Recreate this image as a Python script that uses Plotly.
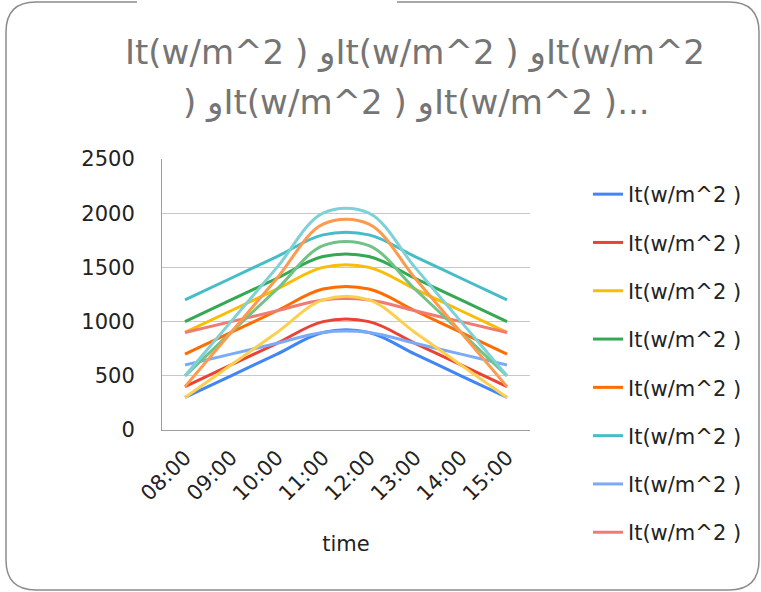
import plotly.graph_objects as go

times = ["08:00", "09:00", "10:00", "11:00", "12:00", "13:00", "14:00", "15:00"]
series_name = "It(w/m^2 )"

s1 = [300, 500, 700, 900, 900, 700, 500, 300]
s2 = [400, 600, 800, 1000, 1000, 800, 600, 400]
s3 = [900, 1100, 1300, 1500, 1500, 1300, 1100, 900]
s4 = [1000, 1200, 1400, 1600, 1600, 1400, 1200, 1000]
s5 = [700, 900, 1100, 1300, 1300, 1100, 900, 700]
s6 = [1200, 1400, 1600, 1800, 1800, 1600, 1400, 1200]
s7 = [600, 700, 800, 900, 900, 800, 700, 600]
s8 = [900, 1000, 1100, 1200, 1200, 1100, 1000, 900]
s9 = [300, 600, 900, 1200, 1200, 900, 600, 300]
s10 = [500, 900, 1300, 1700, 1700, 1300, 900, 500]
s11 = [400, 900, 1400, 1900, 1900, 1400, 900, 400]
s12 = [500, 1000, 1500, 2000, 2000, 1500, 1000, 500]

all_series = [s1, s2, s3, s4, s5, s6, s7, s8, s9, s10, s11, s12]
colors = ["#4285F4", "#EA4335", "#FBBC04", "#34A853", "#FF6D01", "#46BDC6",
          "#7BAAF7", "#F07B72", "#FCD04F", "#71C287", "#FF994D", "#7ED1D7"]
legend_count = 8

title_line1 = "It(w/m^2 ) وIt(w/m^2 ) وIt(w/m^2"
title_line2 = ") وIt(w/m^2 ) وIt(w/m^2 )..."

FONT = "DejaVu Sans"
W, H = 761, 592
L, R, T, B = 162, 530, 159, 430

fig = go.Figure()
for i, (vals, col) in enumerate(zip(all_series, colors)):
    fig.add_trace(go.Scatter(
        x=times, y=vals, mode="lines", name=series_name,
        line=dict(color=col, width=3, shape="spline", smoothing=1),
        showlegend=i < legend_count, legendgroup=f"g{i}",
    ))

def px(x):
    return (x - L) / (R - L)

def py(y):
    return (B - y) / (B - T)

# rounded border with a gap at the top
x0, y0, x1, y1, r = 6, 2, 759, 590, 30
pts = [("M", [(397, y0)]), ("L", [(x1 - r, y0)]), ("Q", [(x1, y0), (x1, y0 + r)]),
       ("L", [(x1, y1 - r)]), ("Q", [(x1, y1), (x1 - r, y1)]),
       ("L", [(x0 + r, y1)]), ("Q", [(x0, y1), (x0, y1 - r)]),
       ("L", [(x0, y0 + r)]), ("Q", [(x0, y0), (x0 + r, y0)]),
       ("L", [(137, y0)])]
path = " ".join(cmd + " " + " ".join(f"{px(a):.5f},{py(b):.5f}" for a, b in p) for cmd, p in pts)

title_font = dict(size=34, color="#757575", family=FONT)
fig.update_layout(
    width=W, height=H,
    margin=dict(l=L, r=W - R, t=T, b=H - B),
    paper_bgcolor="white", plot_bgcolor="white",
    font=dict(family=FONT, color="#222222"),
    annotations=[
        dict(text=title_line1, xref="paper", yref="paper", x=px(415), y=py(52),
             xanchor="center", yanchor="middle", showarrow=False, font=title_font),
        dict(text=title_line2, xref="paper", yref="paper", x=px(416), y=py(103),
             xanchor="center", yanchor="middle", showarrow=False, font=title_font),
    ],
    xaxis=dict(type="category", range=[-0.5, 7.5], tickangle=-45,
               showgrid=False, showline=True, linecolor="#9e9e9e", linewidth=1,
               tickfont=dict(size=21, color="#222222"), ticklabelstandoff=6,
               title=dict(text="time", font=dict(size=21, color="#222222"), standoff=31)),
    yaxis=dict(range=[0, 2500], dtick=500, showgrid=True, gridcolor="#c8c8c8",
               showline=True, linecolor="#9e9e9e", linewidth=1, zeroline=False,
               tickfont=dict(size=21, color="#222222"), ticklabelstandoff=22),
    legend=dict(x=px(588), y=py(174), xanchor="left", yanchor="top",
                font=dict(size=21, color="#222222"), tracegroupgap=18,
                traceorder="grouped", bgcolor="rgba(0,0,0,0)", maxheight=500),
    shapes=[dict(type="path", xref="paper", yref="paper", path=path,
                 line=dict(color="#8c8c8c", width=1.5))],
)

fig.write_html("out.html")
